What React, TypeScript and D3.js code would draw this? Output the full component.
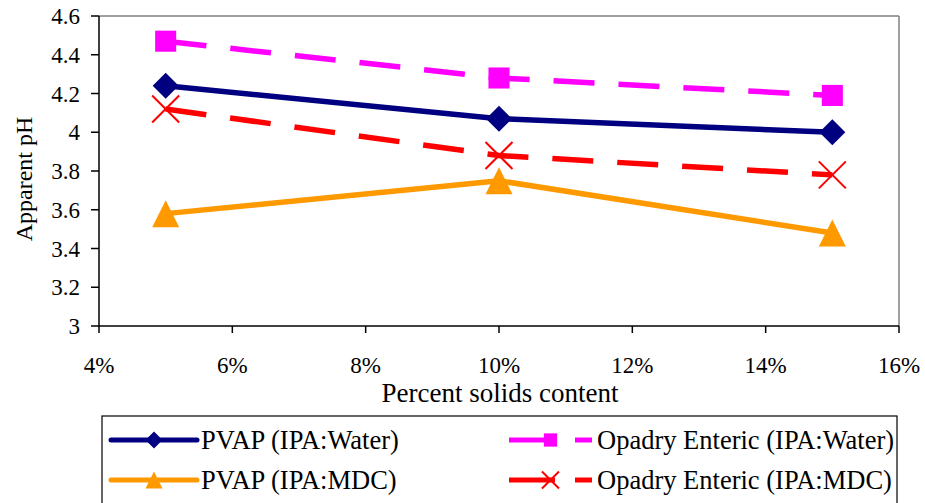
import React from "react";
import * as d3 from "d3";

const xValues = [5, 10, 15];
const pvapWater = [4.24, 4.07, 4.0];
const opadryWater = [4.47, 4.28, 4.19];
const pvapMdc = [3.58, 3.75, 3.48];
const opadryMdc = [4.12, 3.88, 3.78];

const xTicks = [4, 6, 8, 10, 12, 14, 16];
const yTicks = [3, 3.2, 3.4, 3.6, 3.8, 4, 4.2, 4.4, 4.6];

const xTitle = "Percent solids content";
const yTitle = "Apparent pH";

type Marker = "diamond" | "square" | "triangle" | "x";

interface Series {
  name: string;
  values: number[];
  color: string;
  dashed: boolean;
  marker: Marker;
}

const seriesList: Series[] = [
  { name: "PVAP (IPA:Water)", values: pvapWater, color: "#000080", dashed: false, marker: "diamond" },
  { name: "Opadry Enteric (IPA:Water)", values: opadryWater, color: "#FF00FF", dashed: true, marker: "square" },
  { name: "PVAP (IPA:MDC)", values: pvapMdc, color: "#FF9900", dashed: false, marker: "triangle" },
  { name: "Opadry Enteric (IPA:MDC)", values: opadryMdc, color: "#FF0000", dashed: true, marker: "x" },
];

const FONT = "'Liberation Serif', 'Times New Roman', serif";

function MarkerShape({ type, cx, cy, color, size }: { type: Marker; cx: number; cy: number; color: string; size: number }) {
  const h = size / 2;
  if (type === "diamond") {
    return <path d={`M${cx},${cy - h}L${cx + h},${cy}L${cx},${cy + h}L${cx - h},${cy}Z`} fill={color} />;
  }
  if (type === "square") {
    const s = size * 0.78;
    return <rect x={cx - s / 2} y={cy - s / 2} width={s} height={s} fill={color} />;
  }
  if (type === "triangle") {
    return <path d={`M${cx},${cy - h}L${cx + h},${cy + h}L${cx - h},${cy + h}Z`} fill={color} />;
  }
  return (
    <g stroke={color} strokeWidth={2}>
      <line x1={cx - h} y1={cy - h} x2={cx + h} y2={cy + h} />
      <line x1={cx - h} y1={cy + h} x2={cx + h} y2={cy - h} />
    </g>
  );
}

export default function App() {
  const left = 99, right = 899, top = 16, bottom = 326;
  const x = d3.scaleLinear().domain([4, 16]).range([left, right]);
  const y = d3.scaleLinear().domain([3, 4.6]).range([bottom, top]);
  const line = d3
    .line<[number, number]>()
    .x((d) => x(d[0]))
    .y((d) => y(d[1]));

  const legendItems = [
    { s: seriesList[0], lx1: 111, lx2: 197, tx: 201, ty: 449, cy: 440 },
    { s: seriesList[1], lx1: 509, lx2: 592, tx: 597, ty: 449, cy: 440 },
    { s: seriesList[2], lx1: 111, lx2: 197, tx: 201, ty: 489, cy: 480 },
    { s: seriesList[3], lx1: 509, lx2: 592, tx: 597, ty: 489, cy: 480 },
  ];

  return (
    <svg
      width={925}
      height={503}
      style={{ position: "absolute", left: 0, top: 0, background: "#fff" }}
      fontFamily={FONT}
    >
      <rect x={0} y={0} width={925} height={503} fill="#fff" />
      {/* frame */}
      <line x1={left} y1={top} x2={right} y2={top} stroke="#808080" strokeWidth={1.5} />
      <line x1={right} y1={top} x2={right} y2={bottom} stroke="#808080" strokeWidth={1.5} />
      {/* axes */}
      <line x1={left} y1={top} x2={left} y2={bottom} stroke="#000" strokeWidth={1.5} />
      <line x1={left} y1={bottom} x2={right} y2={bottom} stroke="#000" strokeWidth={1.5} />
      {yTicks.map((t) => (
        <g key={"y" + t}>
          <line x1={left - 8} x2={left} y1={y(t)} y2={y(t)} stroke="#000" strokeWidth={1.5} />
          <text x={80} y={y(t) + 8} fontSize={23} textAnchor="end" fill="#000">
            {d3.format("")(t)}
          </text>
        </g>
      ))}
      {xTicks.map((t) => (
        <g key={"x" + t}>
          <line x1={x(t)} x2={x(t)} y1={bottom} y2={bottom + 7} stroke="#000" strokeWidth={1.5} />
          <text x={x(t)} y={373} fontSize={23} textAnchor="middle" fill="#000">
            {t + "%"}
          </text>
        </g>
      ))}
      <text x={500} y={402} fontSize={27} textAnchor="middle" fill="#000">
        {xTitle}
      </text>
      <text
        transform={`translate(32, ${179}) rotate(-90)`}
        fontSize={24}
        textAnchor="middle"
        fill="#000"
      >
        {yTitle}
      </text>

      {/* series */}
      {seriesList.map((s) => (
        <path
          key={s.name}
          d={line(xValues.map((xv, i) => [xv, s.values[i]] as [number, number])) || ""}
          fill="none"
          stroke={s.color}
          strokeWidth={5.5}
          strokeDasharray={s.dashed ? "41 24" : undefined}
        />
      ))}
      {seriesList.map((s) =>
        xValues.map((xv, i) => (
          <MarkerShape key={s.name + i} type={s.marker} cx={x(xv)} cy={y(s.values[i])} color={s.color} size={s.marker === "diamond" ? 26 : 27} />
        ))
      )}

      {/* legend */}
      <rect x={102} y={416} width={795} height={100} fill="none" stroke="#000" strokeWidth={1.2} />
      {legendItems.map(({ s, lx1, lx2, tx, ty, cy }) => (
        <g key={"leg" + s.name}>
          <line
            x1={lx1}
            x2={lx2}
            y1={cy}
            y2={cy}
            stroke={s.color}
            strokeWidth={5}
            strokeLinecap={s.dashed ? "butt" : "round"}
            strokeDasharray={s.dashed ? "46 20" : undefined}
          />
          <MarkerShape type={s.marker} cx={(lx1 + lx2) / 2} cy={cy} color={s.color} size={17} />
          <text x={tx} y={ty} fontSize={26.5} fill="#000">
            {s.name}
          </text>
        </g>
      ))}
    </svg>
  );
}
